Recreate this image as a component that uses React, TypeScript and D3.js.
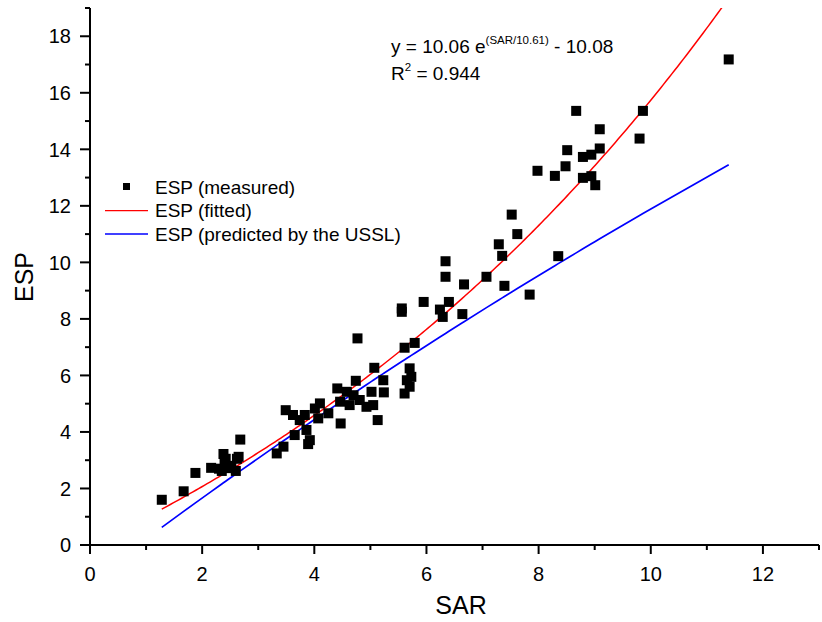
import React from "react";
import * as d3 from "d3";

// measured points: SAR, ESP
const sarValues: number[] = [
  1.28, 1.67, 1.88, 2.16, 2.30, 2.35, 2.38, 2.40, 2.45, 2.52, 2.60, 2.62, 2.65, 2.68, 2.42,
  3.33, 3.45, 3.49, 3.62, 3.65, 3.74, 3.83, 3.86, 3.89, 3.92, 4.01, 4.07, 4.10, 4.25, 4.41,
  4.46, 4.47, 4.58, 4.63, 4.70, 4.74, 4.77, 4.81, 4.93, 5.05, 5.07, 5.13, 5.23, 5.24, 5.02,
  5.56, 5.56, 5.61, 5.79, 5.70, 5.73, 5.65, 5.70, 5.61, 5.95, 6.24, 6.29, 6.34, 6.34, 6.40,
  6.64, 6.67, 7.07, 7.29, 7.35, 7.39, 7.52, 7.62, 7.84, 7.98, 8.29, 8.35, 8.48, 8.51, 8.67,
  8.79, 8.79, 8.94, 8.94, 9.01, 9.09, 9.09, 9.80, 9.86, 11.39,
];
const espValues: number[] = [
  1.60, 1.90, 2.55, 2.73, 2.70, 2.62, 3.22, 2.95, 2.72, 2.80, 2.62, 3.05, 3.12, 3.73, 3.05,
  3.24, 3.48, 4.77, 4.60, 3.89, 4.42, 4.60, 4.07, 3.57, 3.71, 4.83, 4.48, 5.01, 4.66, 5.54,
  5.07, 4.30, 5.42, 4.95, 5.30, 5.81, 7.31, 5.13, 4.89, 4.95, 6.27, 4.42, 5.83, 5.40, 5.42,
  8.37, 8.25, 6.98, 7.15, 6.25, 5.95, 5.83, 5.60, 5.36, 8.60, 8.33, 8.07, 10.04, 9.49, 8.60,
  8.17, 9.22, 9.49, 10.64, 10.23, 9.17, 11.69, 11.00, 8.86, 13.24, 13.06, 10.22, 13.40, 13.97, 15.36,
  13.73, 12.99, 13.81, 13.05, 12.73, 14.71, 14.03, 14.38, 15.36, 17.18,
];

// fitted model y = a*exp(SAR/b) + c
const fitParams: number[] = [10.06, 10.61, -10.08];
// USSL: ESR = k0 + k1*SAR ; ESP = 100*ESR/(1+ESR)
const usslParams: number[] = [-0.0126, 0.01475];

const xTicks: number[] = [0, 2, 4, 6, 8, 10, 12];
const yTicks: number[] = [0, 2, 4, 6, 8, 10, 12, 14, 16, 18];
const legendLabels: string[] = ["ESP (measured)", "ESP (fitted)", "ESP (predicted by the USSL)"];

const FONT = "Arial, 'Liberation Sans', Helvetica, sans-serif";

export default function App() {
  const left = 90, right = 819, top = 8, bottom = 545;
  const x = d3.scaleLinear().domain([0, 13]).range([left, right]);
  const y = d3.scaleLinear().domain([0, 19]).range([bottom, top]);

  const xMin = d3.min(sarValues) as number;
  const xMax = d3.max(sarValues) as number;
  const fitX = d3.range(0, 201).map((i) => xMin + ((xMax - xMin) * i) / 200);
  const fitFn = (s: number) => fitParams[0] * Math.exp(s / fitParams[1]) + fitParams[2];
  const usslFn = (s: number) => {
    const r = usslParams[0] + usslParams[1] * s;
    return (100 * r) / (1 + r);
  };
  const fitPath = d3.line<number>().x((d) => x(d)).y((d) => y(fitFn(d)))(fitX) || "";
  const sortedSar = [...sarValues].sort((a, b) => a - b);
  const usslPath = d3.line<number>().x((d) => x(d)).y((d) => y(usslFn(d)))(sortedSar) || "";

  const minorX = d3.range(0, 14);
  const minorY = d3.range(0, 20);

  return (
    <div>
      <style>{`body{margin:0}`}</style>
      <svg width={822} height={622} style={{ display: "block", background: "#fff" }} fontFamily={FONT}>
        <defs>
          <clipPath id="plotclip">
            <rect x={left} y={top} width={right - left} height={bottom - top} />
          </clipPath>
        </defs>

        {/* lines */}
        <g clipPath="url(#plotclip)">
          <path d={usslPath} fill="none" stroke="#0000ff" strokeWidth={1.7} />
          <path d={fitPath} fill="none" stroke="#ff0000" strokeWidth={1.5} />
        </g>

        {/* points */}
        <g>
          {sarValues.map((s, i) => (
            <rect key={i} x={x(s) - 5} y={y(espValues[i]) - 5} width={10} height={10} fill="#000" />
          ))}
        </g>

        {/* axes */}
        <g stroke="#000" strokeWidth={2}>
          <line x1={left} y1={bottom + 1} x2={left} y2={top} />
          <line x1={left - 1} y1={bottom} x2={right} y2={bottom} />
          {minorX.map((v) => (
            <line key={"mx" + v} x1={x(v)} x2={x(v)} y1={bottom} y2={bottom + (v % 2 === 0 ? 9 : 5)} />
          ))}
          {minorY.map((v) => (
            <line key={"my" + v} x1={left} x2={left - (v % 2 === 0 ? 10 : 5)} y1={y(v)} y2={y(v)} />
          ))}
        </g>
        <g fontSize={20} fill="#000">
          {xTicks.map((v) => (
            <text key={"xt" + v} x={x(v)} y={580.5} textAnchor="middle">
              {v}
            </text>
          ))}
          {yTicks.map((v) => (
            <text key={"yt" + v} x={71} y={y(v) + 7.2} textAnchor="end">
              {v}
            </text>
          ))}
        </g>
        <text x={461} y={614} fontSize={25} textAnchor="middle">SAR</text>
        <text transform={`translate(33,277) rotate(-90)`} fontSize={25} textAnchor="middle">ESP</text>

        {/* equation */}
        <text x={391} y={52.5} fontSize={19}>
          y = 10.06 e<tspan fontSize={11.5} dy={-9}>(SAR/10.61)</tspan>
          <tspan dy={9}> - 10.08</tspan>
        </text>
        <text x={391} y={80} fontSize={19}>
          R<tspan fontSize={11.5} dy={-9}>2</tspan>
          <tspan dy={9}> = 0.944</tspan>
        </text>

        {/* legend */}
        <g fontSize={19}>
          <rect x={123} y={183} width={7} height={7} fill="#000" />
          <text x={155} y={193.5}>{legendLabels[0]}</text>
          <line x1={105} x2={148} y1={210.7} y2={210.7} stroke="#ff0000" strokeWidth={1.3} />
          <text x={155} y={217}>{legendLabels[1]}</text>
          <line x1={105} x2={148} y1={234} y2={234} stroke="#0000ff" strokeWidth={1.3} />
          <text x={155} y={240.5}>{legendLabels[2]}</text>
        </g>
      </svg>
    </div>
  );
}
